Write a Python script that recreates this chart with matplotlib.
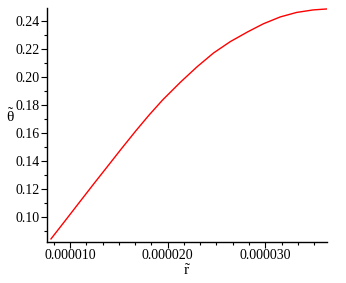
import matplotlib
matplotlib.use("Agg")
import matplotlib.pyplot as plt
from matplotlib.ticker import MultipleLocator, AutoMinorLocator, FormatStrFormatter

# values
r = [8.06e-6, 9.5e-6, 1.092e-5, 1.24e-5, 1.388e-5, 1.53e-5, 1.673e-5, 1.81e-5,
     1.949e-5, 2.133e-5, 2.30e-5, 2.469e-5, 2.64e-5, 2.816e-5, 2.98e-5,
     3.153e-5, 3.32e-5, 3.49e-5, 3.633e-5]
theta = [0.0843, 0.0972, 0.1100, 0.1233, 0.1364, 0.1490, 0.1614, 0.1728,
         0.1836, 0.1964, 0.2072, 0.2171, 0.2252, 0.2321, 0.2380,
         0.2429, 0.2461, 0.2479, 0.2486]

plt.rcParams['font.family'] = 'Liberation Serif'
plt.rcParams['mathtext.fontset'] = 'custom'
plt.rcParams['mathtext.rm'] = 'Liberation Serif'
plt.rcParams['mathtext.it'] = 'Liberation Serif'

fig = plt.figure(figsize=(3.46, 2.83), dpi=100)
ax = fig.add_axes([0.1358, 0.1449, 0.809, 0.827])

ax.plot(r, theta, color='red', lw=1.0)

ax.set_xlim(7.65e-6, 3.63e-5)
ax.set_ylim(0.0821, 0.2493)

ax.xaxis.set_major_locator(MultipleLocator(1e-5))
ax.xaxis.set_minor_locator(AutoMinorLocator(6))
ax.xaxis.set_major_formatter(FormatStrFormatter('%.6f'))
ax.yaxis.set_major_locator(MultipleLocator(0.02))
ax.yaxis.set_minor_locator(AutoMinorLocator(2))
ax.yaxis.set_major_formatter(FormatStrFormatter('%.2f'))

for s in ['top', 'right']:
    ax.spines[s].set_visible(False)
for s in ['left', 'bottom']:
    ax.spines[s].set_linewidth(1.0)

ax.tick_params(which='major', length=4, width=0.8, labelsize=10, pad=1)
ax.tick_params(which='minor', length=2.5, width=0.8)

ax.set_xlabel(r'$\tilde{\mathrm{r}}$', fontsize=11, labelpad=1)
ax.set_ylabel(r'$\tilde{\mathrm{θ}}$', fontsize=11, rotation=0, labelpad=4)

fig.savefig('out.png', dpi=100)
